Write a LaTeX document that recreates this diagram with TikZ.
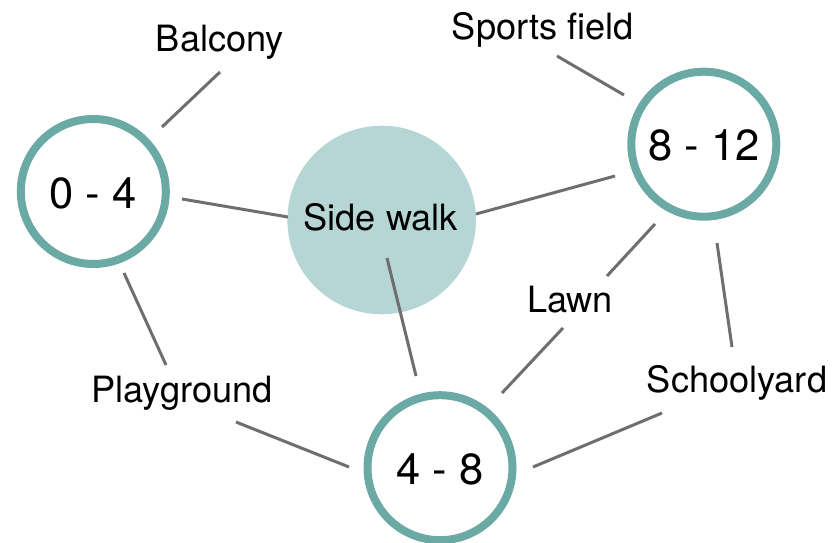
\documentclass[tikz,border=0pt]{standalone}
\usepackage{fontspec}
\setmainfont{TeX Gyre Heros}
\definecolor{ring}{HTML}{6BAAA4}
\definecolor{walkfill}{HTML}{B6D5D5}
\definecolor{linegray}{HTML}{6E6E6E}
\tikzset{
  agering/.style={circle, draw=ring, line width=8pt, fill=white, minimum size=145pt, inner sep=0pt},
  agetext/.style={font=\fontsize{43.5}{43.5}\selectfont, anchor=base, inner sep=0pt},
  placetext/.style={font=\fontsize{36.2}{36.2}\selectfont, anchor=base, inner sep=0pt},
  walkcircle/.style={circle, fill=walkfill, minimum size=188.6pt, inner sep=0pt},
  conn/.style={draw=linegray, line width=3pt}
}
\begin{document}
\begin{tikzpicture}[x=1pt,y=-1pt]
\useasboundingbox (0,0) rectangle (835,543);
% circles
\node[agering] (c04) at (93.3,191.5) {};
\node[walkcircle] (walk) at (381.7,220) {};
\node[agering] (c812) at (703.8,144.2) {};
\node[agering] (c48) at (440,467.7) {};
% circle texts
\node[agetext] (t04) at (93,208) {0 - 4};
\node[agetext] (t812) at (704.3,160) {8 - 12};
\node[agetext] (t48) at (440,484) {4 - 8};
\node[placetext] (twalk) at (380.8,230.7) {Side walk};
% place labels
\node[placetext] (balcony) at (220,52) {Balcony};
\node[placetext] (sports) at (543,40) {Sports field};
\node[placetext] (lawn) at (570,312) {Lawn};
\node[placetext] (school) at (737,392) {Schoolyard};
\node[placetext] (play) at (182,402) {Playground};
% connector ends
\coordinate (b1) at (162,127); \coordinate (b2) at (220,72);
\coordinate (w1) at (182,199); \coordinate (w2) at (288,217);
\coordinate (w3) at (476,214); \coordinate (w4) at (615,176);
\coordinate (s1) at (557,56);  \coordinate (s2) at (624,95);
\coordinate (l1) at (655,224); \coordinate (l2) at (607,276);
\coordinate (l3) at (563,328); \coordinate (l4) at (502,393);
\coordinate (y1) at (717,243); \coordinate (y2) at (732,347);
\coordinate (y3) at (662,413); \coordinate (y4) at (533,467);
\coordinate (w5) at (387,258); \coordinate (w6) at (416,376);
\coordinate (p1) at (124,273); \coordinate (p2) at (166,365);
\coordinate (p3) at (236,422); \coordinate (p4) at (349,467);
% connectors
\draw[conn] (b1) -- (b2);
\draw[conn] (w1) -- (w2);
\draw[conn] (w3) -- (w4);
\draw[conn] (s1) -- (s2);
\draw[conn] (l1) -- (l2);
\draw[conn] (l3) -- (l4);
\draw[conn] (y1) -- (y2);
\draw[conn] (y3) -- (y4);
\draw[conn] (w5) -- (w6);
\draw[conn] (p1) -- (p2);
\draw[conn] (p3) -- (p4);
\end{tikzpicture}
\end{document}
